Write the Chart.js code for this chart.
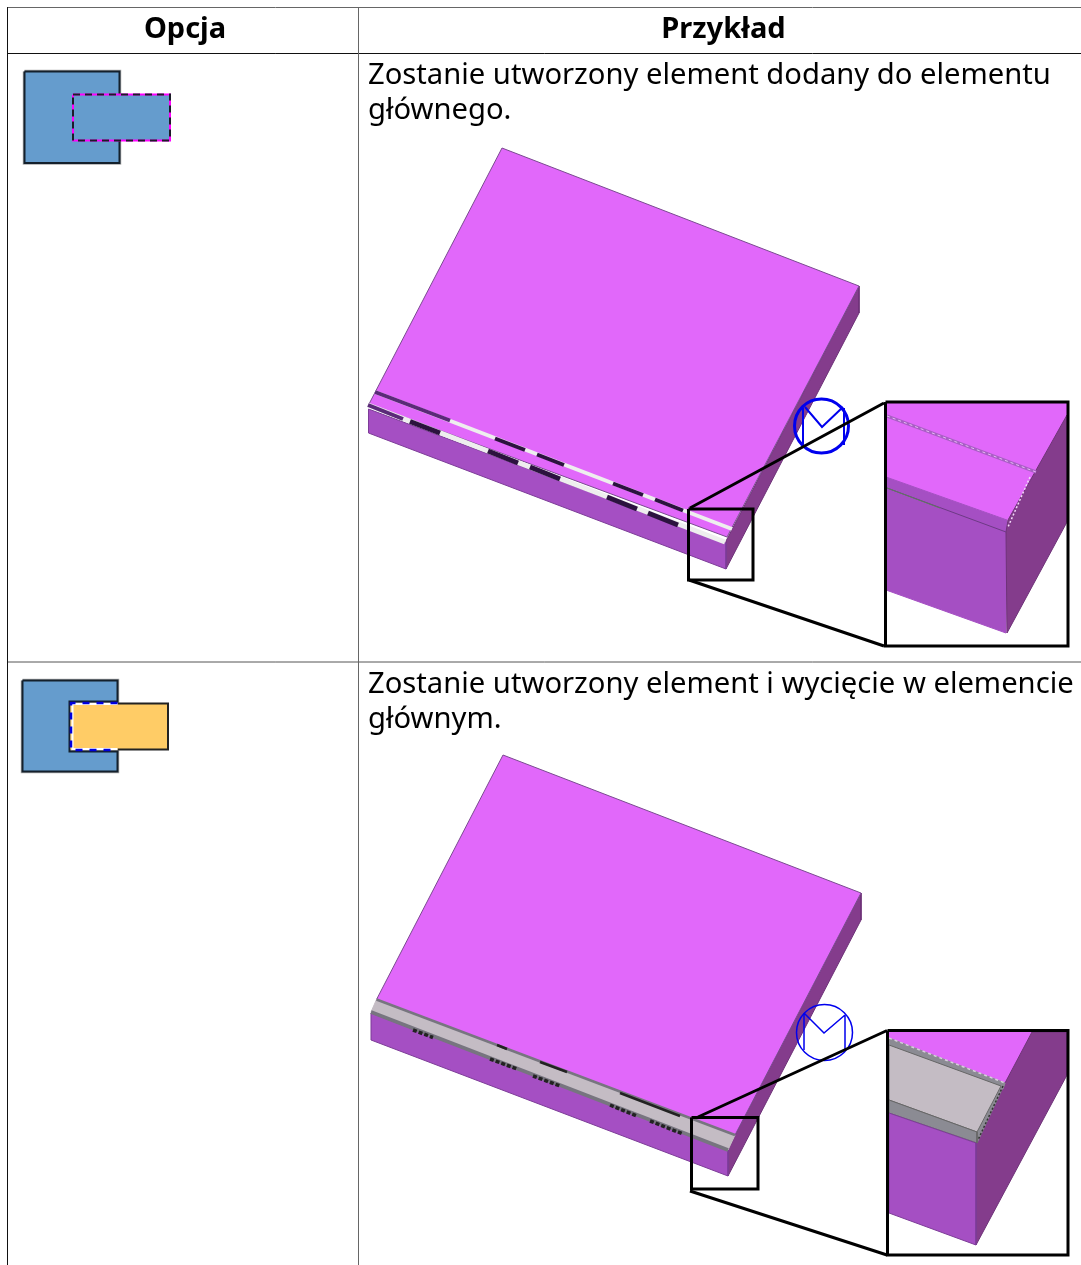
<!DOCTYPE html>
<html lang="pl">
<head>
<meta charset="utf-8">
<title>Opcja / Przykład</title>
<script src="https://cdn.jsdelivr.net/npm/chart.js@4"></script>
<style>
  html, body { margin: 0; padding: 0; background: #fff; overflow: hidden; }
  #wrap { position: relative; width: 1081px; height: 1265px; font-family: "Noto Sans", sans-serif; color: #000; }
  canvas { position: absolute; left: 0; top: 0; }
  .txt { position: absolute; white-space: nowrap; font-size: 29.2px; line-height: 35px; }
  .hd { font-weight: bold; text-align: center; font-size: 29px; line-height: 35px; position: absolute; top: 9px; }
</style>
</head>
<body>
<div id="wrap">
  <canvas id="grafico" width="1081" height="1265"></canvas>
  <div class="hd" style="left:10px;width:350px">Opcja</div>
  <div class="hd" style="left:366px;width:715px">Przykład</div>
  <div class="txt" style="left:368px;top:56px">Zostanie utworzony element dodany do elementu<br>głównego.</div>
  <div class="txt" style="left:368px;top:665px">Zostanie utworzony element i wycięcie w elemencie<br>głównym.</div>
</div>
<script>
//--------------------------------------------------
// COLOURS
//--------------------------------------------------

const TOP = '#e168fa';
const FRONT = '#a54fc3';
const SIDE = '#843c8c';
const BLUE = '#659ccd';
const ORANGE = '#ffcc66';
const CUT = '#c4bcc4';
const CUT_DARK = '#8b8b93';

//--------------------------------------------------
// TABLE RULES
//--------------------------------------------------

const ruleTop = [[7, 7.5], [1081, 7.5]];
const ruleHead = [[7.5, 53.5], [1081, 53.5]];
const ruleRow = [[7.5, 662], [1081, 662]];
const ruleLeft = [[7.5, 7.5], [7.5, 1265]];
const ruleMid = [[358.5, 7.5], [358.5, 1265]];

//--------------------------------------------------
// ICON 1
//--------------------------------------------------

const icon1Base = [[24.5, 71.5], [119.5, 71.5], [119.5, 163], [24.5, 163]];
const icon1Part = [[73, 94.5], [170, 94.5], [170, 140.5], [73, 140.5]];

//--------------------------------------------------
// ICON 2
//--------------------------------------------------

const icon2Base = [[22.5, 680.5], [117.5, 680.5], [117.5, 701.5], [69.5, 701.5], [69.5, 751.5], [117.5, 751.5], [117.5, 771.5], [22.5, 771.5]];
const icon2Part = [[71, 703.5], [168, 703.5], [168, 749.5], [71, 749.5]];
const icon2Edge = [[117.5, 703.5], [168, 703.5], [168, 749.5], [117.5, 749.5]];
const icon2CutWhite = [[117.5, 704], [72.5, 704], [72.5, 749], [117.5, 749]];
const icon2CutBlue = [[117.5, 703], [71, 703], [71, 750], [117.5, 750]];

//--------------------------------------------------
// PLATE 1
//--------------------------------------------------

const plate1Top = [[502, 148], [859, 286], [727, 537], [369, 404]];
const plate1Front = [[368.5, 409], [726, 543], [726, 569], [368.5, 433]];
const plate1Side = [[859, 286], [859, 313], [726, 569], [726, 541]];
const plate1White1 = [[375, 392], [732, 529]];
const plate1White2 = [[368, 405], [725, 542]];
const plate1Thin = [[375, 392], [450, 420.5], null, [368, 405], [403, 419]];
const plate1Dark1 = [[495, 438.5], [525, 450], null, [537, 454.5], [564, 465], null, [613, 483.5], [643, 495], null, [655, 499.5], [683, 510.5]];
const plate1Dark2 = [[410, 421.5], [440, 433], null, [488, 451], [518, 463], null, [530, 467], [560, 479], null, [607, 497], [637, 509], null, [648, 513], [678, 525]];

const mark1Circle = [[821.5, 426]];
const mark1Lines = [[803, 408], [803, 445], null, [844, 408], [844, 445], null, [805, 407], [822, 427], [843, 407]];

const zoom1Box = [[688.5, 509], [753, 509], [753, 580], [688.5, 580]];
const zoom1Leaders = [[690, 508], [884, 403], null, [689, 580], [884, 646]];
const zoom1Frame = [[885.5, 402], [1068, 402], [1068, 646], [885.5, 646]];
const zoom1Top = [[886, 403], [1067, 403], [1067, 415], [1035, 472], [1008, 520], [886, 477]];
const zoom1Front = [[886, 477], [1007, 520], [1006, 633], [886, 590]];
const zoom1Side = [[1067, 415], [1067, 522], [1007, 633], [1006, 532], [1008, 520], [1035, 472]];
const zoom1Groove = [[887, 416], [1036, 472]];
const zoom1Step = [[887, 488], [1006, 532]];
const zoom1Seam = [[887, 488], [940, 508]];
const zoom1Dots = [[1030, 477], [1008, 527]];

//--------------------------------------------------
// PLATE 2
//--------------------------------------------------

const plate2Top = [[503, 755], [861, 893], [735, 1135], [376.5, 999.5]];
const plate2Front = [[371, 1013], [728, 1150], [728, 1176], [371, 1040]];
const plate2Side = [[861, 893], [861, 920], [728, 1176], [728, 1150], [735, 1135]];
const plate2Cut = [[376.5, 999.5], [735, 1135], [728, 1150], [371, 1012]];
const plate2Upper = [[376.5, 999.5], [735, 1135]];
const plate2Lower = [[371, 1012], [728, 1150]];
const plate2BlackUp = [[497, 1045], [507, 1049], null, [540, 1062], [567, 1072], null, [620, 1093], [680, 1116]];
const plate2BlackLow = [[413, 1030], [433, 1037.5], null, [490, 1059], [517, 1069], null, [533, 1076], [560, 1086], null, [610, 1105], [637, 1116], null, [650, 1121], [683, 1134]];

const mark2Circle = [[824.5, 1032.5]];
const mark2Lines = [[804, 1013], [804, 1050], null, [845, 1015], [845, 1050], null, [804, 1013], [824, 1033], [845, 1015]];

const zoom2Box = [[691.5, 1117.5], [758, 1117.5], [758, 1189], [691.5, 1189]];
const zoom2Leaders = [[698, 1117], [887, 1030.5], null, [690, 1191], [887, 1255]];
const zoom2Frame = [[887.5, 1030.5], [1068, 1030.5], [1068, 1255], [887.5, 1255]];
const zoom2Top = [[889, 1032], [1032, 1032], [1005, 1083], [889, 1038]];
const zoom2Side = [[1032, 1032], [1067, 1032], [1067, 1075], [976, 1245], [976, 1142], [1005, 1083]];
const zoom2Band = [[889, 1038], [1005, 1083], [1003, 1089], [889, 1045]];
const zoom2Sliver = [[1005, 1083], [1001, 1086], [977, 1132], [977, 1143]];
const zoom2Cut = [[889, 1045], [1001, 1086], [977, 1132], [889, 1100]];
const zoom2Lip = [[889, 1100], [977, 1132], [977, 1143], [889, 1113]];
const zoom2Front = [[889, 1113], [976, 1143], [976, 1245], [889, 1213]];
const zoom2Dots = [[1003, 1086], [978, 1140]];
const zoom2Chain = [[889, 1038], [1005, 1083]];

//--------------------------------------------------
// DATASET HELPERS
//--------------------------------------------------

function toData(pontos) {
  return pontos.map(p => p ? { x: p[0], y: p[1] } : { x: null, y: null });
}

function poly(pontos, cor, borda, largura, traco) {
  return {
    data: toData(pontos.concat([pontos[0]])),
    showLine: true,
    fill: cor ? 'shape' : false,
    backgroundColor: cor || 'transparent',
    borderColor: borda || cor,
    borderWidth: largura === undefined ? 1 : largura,
    borderDash: traco || [],
    borderJoinStyle: 'miter',
    pointRadius: 0,
    tension: 0
  };
}

function line(pontos, cor, largura, traco) {
  return {
    data: toData(pontos),
    showLine: true,
    fill: false,
    borderColor: cor,
    borderWidth: largura,
    borderDash: traco || [],
    pointRadius: 0,
    tension: 0
  };
}

function circle(pontos, cor, raio, largura) {
  return {
    data: toData(pontos),
    showLine: false,
    pointRadius: raio,
    pointBorderWidth: largura,
    pointBackgroundColor: 'transparent',
    pointBorderColor: cor
  };
}

//--------------------------------------------------
// PAINT ORDER: BACK TO FRONT
//--------------------------------------------------

const camadas = [
  line(ruleTop, '#666', 1),
  line(ruleHead, '#111', 1),
  line(ruleRow, '#555', 1),
  line(ruleLeft, '#111', 1),
  line(ruleMid, '#666', 1),

  poly(icon1Base, null, '#aaa', 3.5),
  poly(icon1Base, BLUE, '#14202c', 2),
  poly(icon1Part, BLUE, '#ff00ff', 2),
  poly(icon1Part, null, '#1c1c28', 2, [7, 5]),

  poly(icon2Base, null, '#aaa', 3.5),
  poly(icon2Base, BLUE, '#14202c', 2),
  poly(icon2Part, ORANGE, ORANGE, 1),
  line(icon2Edge, '#222', 2),
  line(icon2CutWhite, '#fff', 2),
  line(icon2CutBlue, '#0000dd', 2.5, [7, 7]),

  // plate 1
  poly(plate1Side, SIDE, '#6e3278', 1),
  poly(plate1Top, TOP, '#7a4a90', 1),
  poly(plate1Front, FRONT, '#7d3c98', 1),
  line(plate1White1, '#eeeeee', 4),
  line(plate1White2, '#eeeeee', 5),
  line(plate1Thin, '#5a2a78', 4),
  line(plate1Dark1, '#2c123f', 4),
  line(plate1Dark2, '#2c123f', 5),
  circle(mark1Circle, '#0000ee', 27, 3),
  line(mark1Lines, '#0000ee', 2),
  poly(zoom1Top, TOP, TOP, 1),
  poly(zoom1Front, FRONT, FRONT, 1),
  poly(zoom1Side, SIDE, '#6e3278', 1),
  line(zoom1Groove, '#a85fc4', 3),
  line(zoom1Groove, '#e8b8f5', 1, [3, 3]),
  line(zoom1Step, '#6d3a85', 1),
  line(zoom1Seam, '#5f7a5f', 1),
  line(zoom1Dots, '#f2d8f8', 1.5, [2, 2]),
  line(zoom1Leaders, '#000', 3),
  poly(zoom1Box, null, '#000', 3),
  poly(zoom1Frame, null, '#000', 3),

  // plate 2
  poly(plate2Side, SIDE, '#6e3278', 1),
  poly(plate2Top, TOP, '#7a4a90', 1),
  poly(plate2Front, FRONT, '#7d3c98', 1),
  poly(plate2Cut, CUT, CUT, 1),
  line(plate2Upper, '#77757f', 2.5),
  line(plate2Lower, '#77757f', 3.5),
  line(plate2BlackUp, '#222', 2.5),
  line(plate2BlackLow, '#222', 3.5, [4, 2]),
  circle(mark2Circle, '#0000ee', 28, 1.5),
  line(mark2Lines, '#0000ee', 1.5),
  poly(zoom2Top, TOP, TOP, 1),
  poly(zoom2Side, SIDE, '#6e3278', 1),
  poly(zoom2Band, CUT_DARK, CUT_DARK, 1),
  poly(zoom2Sliver, CUT_DARK, CUT_DARK, 1),
  poly(zoom2Cut, CUT, '#666', 1),
  poly(zoom2Lip, CUT_DARK, '#666', 1),
  poly(zoom2Front, FRONT, '#7d3c98', 1),
  line(zoom2Chain, '#d8d0dc', 1.5, [3, 3]),
  line(zoom2Dots, '#333', 1.5, [2, 2]),
  line(zoom2Leaders, '#000', 3),
  poly(zoom2Box, null, '#000', 3),
  poly(zoom2Frame, null, '#000', 3)
];

//--------------------------------------------------
// CHART: CHART.JS DRAWS THE LAST DATASET FIRST
//--------------------------------------------------

new Chart(document.getElementById('grafico'), {
  type: 'scatter',
  data: { datasets: camadas.slice().reverse() },
  options: {
    responsive: false,
    animation: false,
    events: [],
    layout: { padding: 0, autoPadding: false },
    spanGaps: false,
    plugins: { legend: { display: false }, tooltip: { enabled: false } },
    scales: {
      x: { type: 'linear', min: 0, max: 1081, display: false },
      y: { type: 'linear', min: 0, max: 1265, reverse: true, display: false }
    }
  }
});
</script>
</body>
</html>
